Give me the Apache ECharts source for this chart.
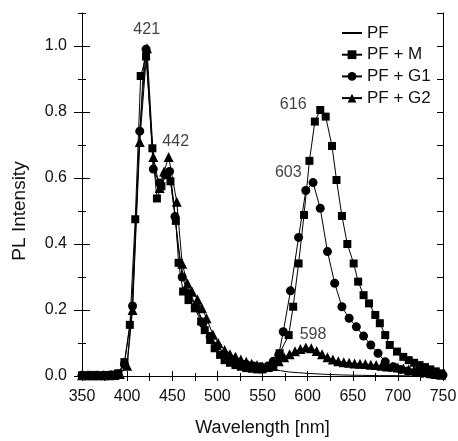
<!DOCTYPE html>
<html><head><meta charset="utf-8">
<script src="https://cdn.jsdelivr.net/npm/echarts@6/dist/echarts.min.js"></script>
<style>html,body{margin:0;padding:0;background:#fff}#c{width:458px;height:441px}</style>
</head><body><div id="c"></div>
<script>
// ---- data (wavelength in nm, normalized PL intensity) ----
const pfWl  = [350,360,370,380,390,395,400,405,410,414,418,421,425,429,434,438,443,447,452,456,460,465,470,475,480,485,490,495,500,510,520,530,540,550,560,570,580,590,600,620,640,660,680,700,720,750];
const pfVal = [0,0,0,0,0.004,0.015,0.035,0.2,0.5,0.73,0.93,1.0,0.82,0.64,0.57,0.58,0.62,0.63,0.52,0.4,0.33,0.28,0.25,0.22,0.19,0.16,0.13,0.11,0.09,0.065,0.05,0.04,0.034,0.03,0.022,0.016,0.012,0.01,0.008,0.005,0.003,0.002,0.001,0.001,0,0];

const mWl  = [350,355,360,365,370,375,380,385,390,397,403,409,415,421,428,433,438,443,448,454,457,462,468,475,482,486,492,497,503,508,514,520,526,532,538,544,550,556,562,569,579,584,590,596,602,608,614,620,627,632,638,644,651,656,662,668,675,680,686,691,699,706,712,718,724,730,736,742,748];
const mVal = [0.002,0.002,0.002,0.002,0.002,0.002,0.003,0.004,0.008,0.042,0.155,0.475,0.909,0.968,0.69,0.538,0.575,0.61,0.59,0.47,0.343,0.256,0.23,0.205,0.165,0.139,0.109,0.084,0.064,0.048,0.04,0.033,0.028,0.024,0.022,0.02,0.02,0.024,0.035,0.069,0.124,0.21,0.341,0.488,0.652,0.771,0.806,0.786,0.697,0.594,0.485,0.4,0.341,0.286,0.245,0.22,0.185,0.16,0.124,0.094,0.074,0.058,0.048,0.04,0.033,0.027,0.02,0.014,0.008];

const g1Wl  = [350,358,366,374,382,390,397,406,414,421,429,436,442,447,453,461,468,476,484,492,500,508,516,524,532,540,548,556,562,568,573,581,590,598,606,614,622,630,638,646,654,662,670,678,686,695,703,711,719,727,735,743,750];
const g1Val = [0.002,0.002,0.002,0.002,0.003,0.006,0.035,0.212,0.742,0.99,0.627,0.585,0.61,0.62,0.483,0.3,0.25,0.21,0.16,0.12,0.09,0.065,0.05,0.04,0.035,0.03,0.028,0.03,0.045,0.064,0.134,0.258,0.42,0.562,0.586,0.508,0.377,0.281,0.21,0.175,0.149,0.121,0.094,0.069,0.043,0.028,0.02,0.015,0.011,0.008,0.006,0.004,0.003];

const g2Wl  = [350,356,362,368,374,380,386,392,400,406,414,422,429,436,441,446,455,461,467,472,478,483,488,495,501,508,514,520,526,532,538,544,550,556,562,568,574,580,586,592,598,604,610,616,622,628,634,640,646,652,658,664,670,676,682,688,694,700,706,712,718,724,730,736,742,748];
const g2Val = [0.002,0.002,0.002,0.002,0.002,0.002,0.003,0.006,0.031,0.2,0.709,0.993,0.664,0.57,0.62,0.664,0.528,0.34,0.28,0.255,0.232,0.205,0.175,0.126,0.1,0.079,0.066,0.058,0.05,0.043,0.037,0.033,0.028,0.027,0.03,0.045,0.057,0.066,0.075,0.082,0.086,0.084,0.076,0.066,0.057,0.05,0.045,0.042,0.04,0.038,0.037,0.036,0.034,0.033,0.031,0.029,0.028,0.026,0.023,0.02,0.018,0.015,0.012,0.009,0.006,0.004];

// peak annotations
const annText = ['421','442','616','603','598'];
const annWl   = [421.7,453.8,584,578.6,606];
const annVal  = [1.05,0.709,0.821,0.616,0.124];

const xTicks = {min:350,max:750};
const zip = (a,b)=>a.map((v,i)=>[v,b[i]]);

const chart = echarts.init(document.getElementById('c'));
const FONT = 'Liberation Sans, Arial, sans-serif';
const gridRect = {left:82,right:15,top:13,bottom:65,containLabel:false,outerBoundsMode:'none'};
const gridLow = {left:82,right:15,top:46,bottom:65,containLabel:false,outerBoundsMode:'none'};
const black = '#000';
const txt = '#111';
const hiddenX = (g)=>({gridIndex:g,type:'value',min:350,max:750,show:false});

chart.setOption({
  animation:false,
  backgroundColor:'#fff',
  textStyle:{fontFamily:FONT},
  grid:[
    Object.assign({},gridRect),
    Object.assign({},gridRect),
    Object.assign({},gridLow),
    Object.assign({},gridLow)
  ],
  xAxis:[
    {gridIndex:0,type:'value',position:'bottom',min:xTicks.min,max:xTicks.max,interval:50,
     name:'Wavelength [nm]',nameLocation:'middle',nameGap:43,
     nameTextStyle:{fontSize:18,color:txt,fontFamily:FONT},
     axisLine:{show:true,lineStyle:{color:black,width:1}},
     axisTick:{show:true,inside:false,length:5,lineStyle:{color:black}},
     minorTick:{show:true,splitNumber:2,length:3,lineStyle:{color:black}},
     axisLabel:{fontSize:16,color:txt,margin:13,fontFamily:FONT},
     splitLine:{show:false}},
    {gridIndex:0,type:'value',position:'top',min:xTicks.min,max:xTicks.max,interval:25,
     axisLine:{show:true,lineStyle:{color:black,width:1}},
     axisTick:{show:true,inside:true,length:5,lineStyle:{color:black}},
     axisLabel:{show:false},splitLine:{show:false}},
    {gridIndex:1,type:'value',position:'bottom',min:xTicks.min,max:xTicks.max,interval:50,
     axisLine:{show:false},
     axisTick:{show:true,inside:true,length:5,lineStyle:{color:black}},
     minorTick:{show:true,splitNumber:2,length:3,lineStyle:{color:black}},
     axisLabel:{show:false},splitLine:{show:false}},
    hiddenX(2), hiddenX(3)
  ],
  yAxis:[
    {gridIndex:0,type:'value',position:'left',min:0,max:1.1,interval:0.1,
     axisLine:{show:true,lineStyle:{color:black,width:1}},
     axisTick:{show:true,inside:true,length:4,lineStyle:{color:black}},
     axisLabel:{show:false},splitLine:{show:false}},
    {gridIndex:0,type:'value',position:'right',min:0,max:1.1,interval:0.1,
     axisLine:{show:true,lineStyle:{color:black,width:1}},
     axisTick:{show:true,inside:true,length:6,lineStyle:{color:black}},
     axisLabel:{show:false},splitLine:{show:false}},
    {gridIndex:1,type:'value',position:'left',min:0,max:1.1,interval:0.1,
     axisLine:{show:false},
     axisTick:{show:true,inside:false,length:4,lineStyle:{color:black}},
     axisLabel:{show:false},splitLine:{show:false}},
    {gridIndex:2,type:'value',position:'left',min:0,max:1.0,interval:0.2,
     name:'PL Intensity',nameLocation:'middle',nameGap:53,
     nameTextStyle:{fontSize:19,color:txt,fontFamily:FONT},
     axisLine:{show:false},
     axisTick:{show:true,inside:false,length:8,lineStyle:{color:black}},
     axisLabel:{fontSize:16,color:txt,margin:15,fontFamily:FONT,formatter:v=>v.toFixed(1)},
     splitLine:{show:false}},
    {gridIndex:3,type:'value',position:'left',min:0,max:1.0,interval:0.2,
     axisLine:{show:false},
     axisTick:{show:true,inside:true,length:8,lineStyle:{color:black}},
     axisLabel:{show:false},splitLine:{show:false}}
  ],
  legend:{
    orient:'vertical',left:341,top:24.5,padding:0,itemWidth:20,itemHeight:11,itemGap:4.7,
    textStyle:{fontSize:17,color:txt,fontFamily:FONT},
    data:[{name:'PF',itemStyle:{opacity:0}},'PF + M','PF + G1','PF + G2']
  },
  series:[
    {name:'PF',type:'line',xAxisIndex:0,yAxisIndex:0,data:zip(pfWl,pfVal),symbol:'none',
     lineStyle:{color:black,width:1},itemStyle:{color:black}},
    {name:'PF + M',type:'line',xAxisIndex:0,yAxisIndex:0,data:zip(mWl,mVal),symbol:'rect',symbolSize:8,
     lineStyle:{color:black,width:1},itemStyle:{color:black}},
    {name:'PF + G1',type:'line',xAxisIndex:0,yAxisIndex:0,data:zip(g1Wl,g1Val),symbol:'circle',symbolSize:9,
     lineStyle:{color:black,width:1},itemStyle:{color:black}},
    {name:'PF + G2',type:'line',xAxisIndex:0,yAxisIndex:0,data:zip(g2Wl,g2Val),symbol:'triangle',symbolSize:10,
     lineStyle:{color:black,width:1},itemStyle:{color:black}},
    {name:'ann',type:'scatter',xAxisIndex:0,yAxisIndex:0,symbolSize:0,silent:true,
     data:annText.map((t,i)=>({name:t,value:[annWl[i],annVal[i]]})),
     label:{show:true,position:'inside',formatter:p=>p.name,fontSize:16,color:txt,fontFamily:FONT}}
  ]
});
</script></body></html>
